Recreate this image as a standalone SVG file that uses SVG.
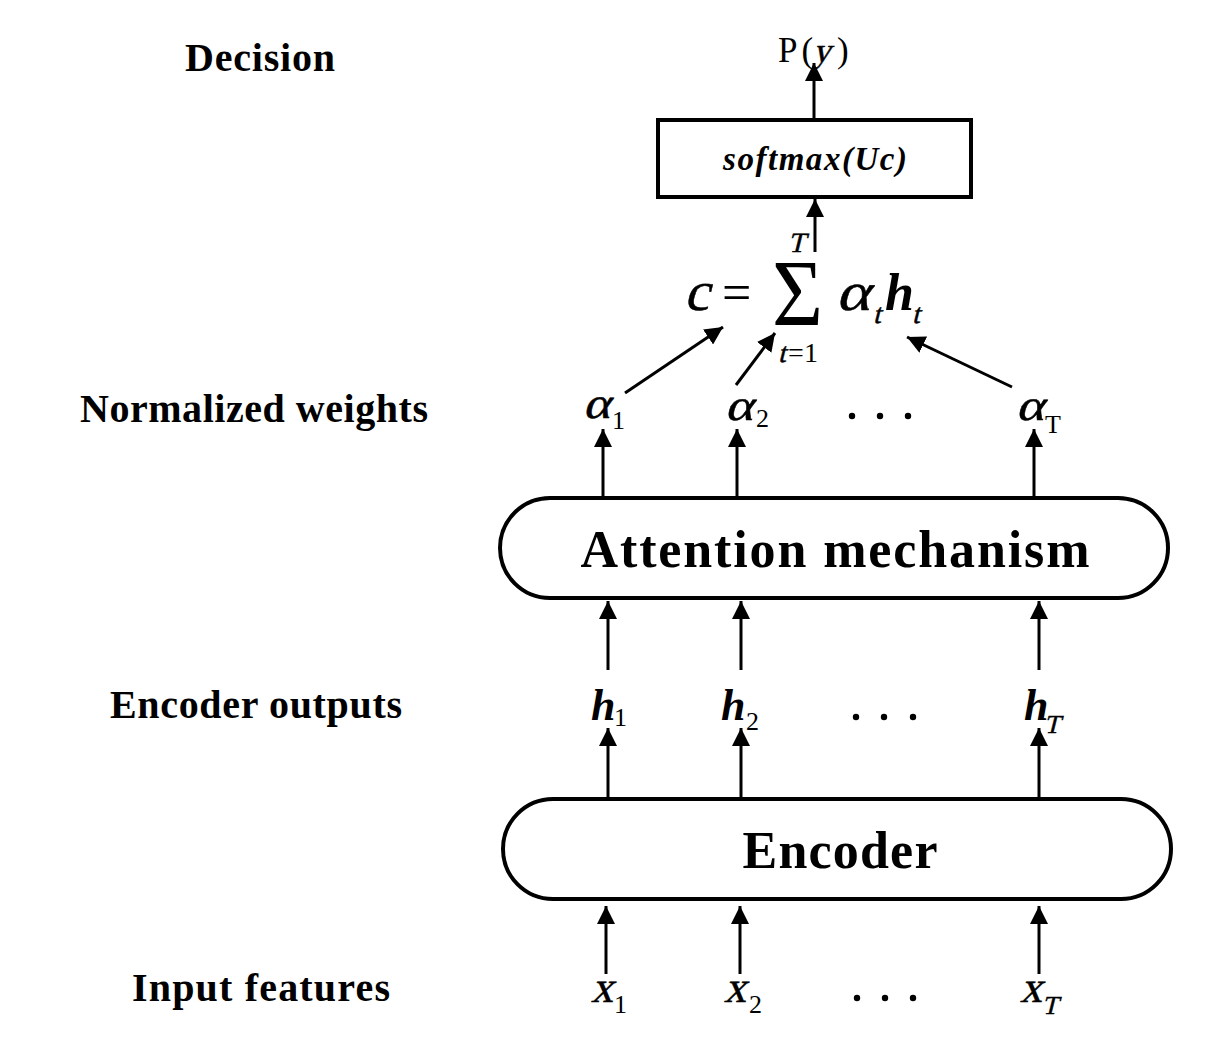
<svg xmlns="http://www.w3.org/2000/svg" width="1224" height="1064" viewBox="0 0 1224 1064">
<style>
.lbl{font-family:"Liberation Serif","Times New Roman",serif;font-weight:bold;font-size:40px;fill:#000}
.box{fill:#fff;stroke:#000;stroke-width:4}
.boxt{font-family:"Liberation Serif","Times New Roman",serif;font-weight:bold;font-size:52px;fill:#000;text-anchor:middle}
.m{font-family:"Liberation Serif","Times New Roman",serif;font-style:italic;font-weight:bold;fill:#000}
.o{font-family:"Liberation Serif","Times New Roman",serif;font-style:normal;font-weight:normal;fill:#000;stroke:#000;stroke-width:0.5}
.u{font-family:"Liberation Serif","Times New Roman",serif;font-style:normal;font-weight:normal;fill:#000}
.con line{stroke:#000;stroke-width:3;fill:none;marker-end:url(#ah)}
.dot{fill:#000}
</style>
<defs>
<marker id="ah" markerUnits="userSpaceOnUse" markerWidth="18" markerHeight="18" refX="18" refY="9" orient="auto">
<path d="M0,0 L18,9 L0,18 z" fill="#000"/>
</marker>
</defs>
<rect width="1224" height="1064" fill="#fff"/>

<g id="left-labels">
<text class="lbl" x="185" y="71" textLength="150">Decision</text>
<text class="lbl" x="80" y="422" textLength="348">Normalized weights</text>
<text class="lbl" x="110" y="718" textLength="292">Encoder outputs</text>
<text class="lbl" x="132" y="1001" textLength="258">Input features</text>
</g>

<g id="output">
<text class="u" x="778" y="62" font-size="35" letter-spacing="4">P(</text>
<g transform="translate(813,62) skewX(-14)"><text class="o" x="0" y="0" font-size="35">y</text></g>
<text class="u" x="837" y="62" font-size="35">)</text>
</g>

<g id="softmax">
<rect class="box" x="658" y="120" width="313" height="77"/>
<text class="m" x="723" y="170" font-size="33" textLength="184">softmax(Uc)</text>
</g>

<g id="context">
<g transform="translate(684,310) skewX(-14)"><text class="o" x="0" y="0" font-size="56">c</text></g>
<text class="u" x="722" y="310" font-size="52">=</text>
<text class="u" x="772" y="326" font-size="96" textLength="51" lengthAdjust="spacingAndGlyphs">Σ</text>
<g transform="translate(788,252) skewX(-14)"><text class="o" x="0" y="0" font-size="28" stroke-width="0.3">T</text></g>
<g transform="translate(778,362) skewX(-14)"><text class="o" x="0" y="0" font-size="28" stroke-width="0.3">t</text></g>
<text class="u" x="788" y="362" font-size="28" textLength="30">=1</text>
<g transform="translate(836,310) skewX(-14)"><text class="o" x="0" y="0" font-size="54" textLength="34" lengthAdjust="spacingAndGlyphs">α</text></g>
<g transform="translate(873,323) skewX(-14)"><text class="o" x="0" y="0" font-size="28" stroke-width="0.3">t</text></g>
<text class="m" x="885" y="310" font-size="52">h</text>
<g transform="translate(912,323) skewX(-14)"><text class="o" x="0" y="0" font-size="28" stroke-width="0.3">t</text></g>
</g>

<g id="alpha1"><g transform="translate(583,418) skewX(-14)"><text class="o" x="0" y="0" font-size="44" textLength="27" lengthAdjust="spacingAndGlyphs">α</text></g><text class="u" x="612" y="429" font-size="26">1</text></g>
<g id="alpha2"><g transform="translate(725,420) skewX(-14)"><text class="o" x="0" y="0" font-size="44" textLength="28" lengthAdjust="spacingAndGlyphs">α</text></g><text class="u" x="756" y="427" font-size="26">2</text></g>
<g id="alpha-dots"><circle class="dot" cx="852" cy="416" r="3.2"/><circle class="dot" cx="880" cy="416" r="3.2"/><circle class="dot" cx="908" cy="416" r="3.2"/></g>
<g id="alphaT"><g transform="translate(1016,420) skewX(-14)"><text class="o" x="0" y="0" font-size="44" textLength="28" lengthAdjust="spacingAndGlyphs">α</text></g><text class="u" x="1045" y="433" font-size="26">T</text></g>

<g id="attention">
<rect class="box" x="500" y="498" width="668" height="100" rx="50" ry="50"/>
<text class="boxt" x="835" y="567" textLength="509">Attention mechanism</text>
</g>

<g id="h1"><text class="m" x="591" y="720" font-size="44">h</text><text class="u" x="614" y="726" font-size="26">1</text></g>
<g id="h2"><text class="m" x="721" y="720" font-size="44">h</text><text class="u" x="746" y="730" font-size="26">2</text></g>
<g id="h-dots"><circle class="dot" cx="856" cy="717" r="3.2"/><circle class="dot" cx="884" cy="717" r="3.2"/><circle class="dot" cx="913" cy="717" r="3.2"/></g>
<g id="hT"><text class="m" x="1024" y="720" font-size="44">h</text><g transform="translate(1044,733) skewX(-14)"><text class="o" x="0" y="0" font-size="26" stroke-width="0.3">T</text></g></g>

<g id="encoder">
<rect class="box" x="503" y="799" width="668" height="100" rx="50" ry="50"/>
<text class="boxt" x="840" y="868" textLength="195">Encoder</text>
</g>

<g id="x1"><g transform="translate(591,1002) skewX(-14)"><text class="o" x="0" y="0" font-size="44">x</text></g><text class="u" x="614" y="1013" font-size="26">1</text></g>
<g id="x2"><g transform="translate(724,1002) skewX(-14)"><text class="o" x="0" y="0" font-size="44">x</text></g><text class="u" x="749" y="1013" font-size="26">2</text></g>
<g id="x-dots"><circle class="dot" cx="857" cy="998" r="3.2"/><circle class="dot" cx="885" cy="998" r="3.2"/><circle class="dot" cx="913" cy="998" r="3.2"/></g>
<g id="xT"><g transform="translate(1020,1002) skewX(-14)"><text class="o" x="0" y="0" font-size="44">x</text></g><g transform="translate(1042,1014) skewX(-14)"><text class="o" x="0" y="0" font-size="26" stroke-width="0.3">T</text></g></g>

<g id="connectors" class="con">
<line x1="814" y1="118" x2="814" y2="63"/>
<line x1="815" y1="252" x2="815" y2="199"/>
<line x1="625" y1="393" x2="723" y2="327"/>
<line x1="736" y1="385" x2="775" y2="333"/>
<line x1="1012" y1="387" x2="907" y2="337"/>
<line x1="603" y1="496" x2="603" y2="429"/>
<line x1="737" y1="496" x2="737" y2="429"/>
<line x1="1034" y1="496" x2="1034" y2="429"/>
<line x1="608" y1="670" x2="608" y2="601"/>
<line x1="741" y1="670" x2="741" y2="601"/>
<line x1="1039" y1="670" x2="1039" y2="601"/>
<line x1="608" y1="797" x2="608" y2="728"/>
<line x1="741" y1="797" x2="741" y2="728"/>
<line x1="1039" y1="797" x2="1039" y2="728"/>
<line x1="606" y1="974" x2="606" y2="906"/>
<line x1="740" y1="974" x2="740" y2="906"/>
<line x1="1039" y1="974" x2="1039" y2="906"/>
</g>
</svg>
